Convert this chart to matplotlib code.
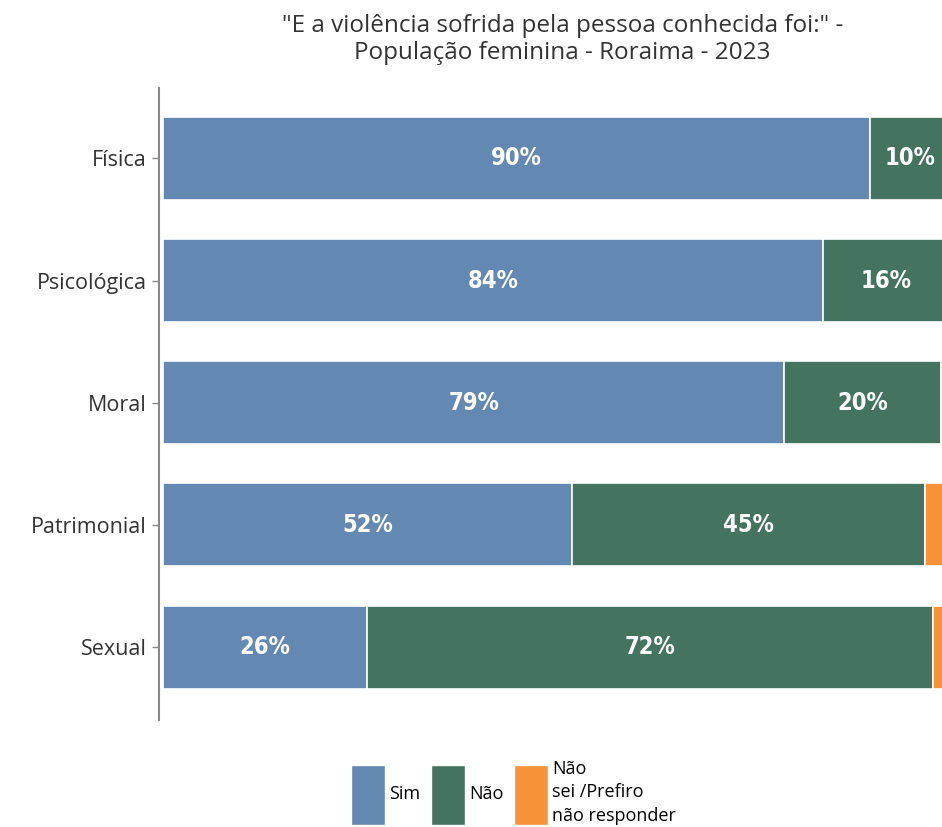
import numpy as np
import matplotlib.pyplot as plt
from matplotlib.patches import Patch

categorias = ['Física', 'Psicológica', 'Moral', 'Patrimonial', 'Sexual']
sim = [90, 84, 79, 52, 26]
nao = [10, 16, 20, 45, 72]
nao_sei = [0, 0, 1, 3, 2]
series_nomes = ['Sim', 'Não', 'Não\nsei /Prefiro\nnão responder']
cores = ['#6388B1', '#44735F', '#F79239']

fig = plt.figure(figsize=(9.42, 8.27), dpi=100)
ax = fig.add_axes([0.169, 0.129, 0.831, 0.765])

y = np.arange(len(categorias))
esquerda = np.zeros(len(categorias))
for valores, cor in zip([sim, nao, nao_sei], cores):
    valores = np.array(valores, dtype=float)
    ax.barh(y, valores, left=esquerda, height=0.68, color=cor,
            edgecolor='white', linewidth=1.2)
    for yi, l, v in zip(y, esquerda, valores):
        if v >= 5:
            ax.text(l + v / 2, yi, f'{v:.0f}%', ha='center', va='center',
                    color='white', fontsize=17, fontweight='bold',
                    fontstretch='condensed', family='DejaVu Sans')
    esquerda = esquerda + valores

ax.set_xlim(-0.5, 99.1)
ax.set_ylim(4.6, -0.58)
ax.set_yticks(y)
ax.set_yticklabels(categorias, fontsize=15.5, color='#333333',
                   family=['Open Sans', 'DejaVu Sans'])
ax.set_xticks([])
for s in ['top', 'right', 'bottom']:
    ax.spines[s].set_visible(False)
ax.spines['left'].set_color('#888888')
ax.spines['left'].set_linewidth(1.5)
ax.tick_params(axis='y', length=5, color='#888888', width=1, pad=4)

fig.text(0.597, 0.952, '"E a violência sofrida pela pessoa conhecida foi:" -\nPopulação feminina - Roraima - 2023',
         ha='center', va='center', fontsize=17.5, color='#333333',
         family=['Open Sans', 'DejaVu Sans'], linespacing=1.2)

handles = [Patch(facecolor=c, edgecolor='white') for c in cores]
leg = fig.legend(handles, series_nomes, loc='center', bbox_to_anchor=(0.545, 0.042),
                 ncol=3, frameon=False, handleheight=4.7,
                 handlelength=1.9, handletextpad=0.2, columnspacing=0.6,
                 prop={'family': ['Open Sans', 'DejaVu Sans'], 'size': 13})
for t in leg.get_texts():
    t.set_linespacing(1.4)

fig.savefig('out.png', dpi=100)
